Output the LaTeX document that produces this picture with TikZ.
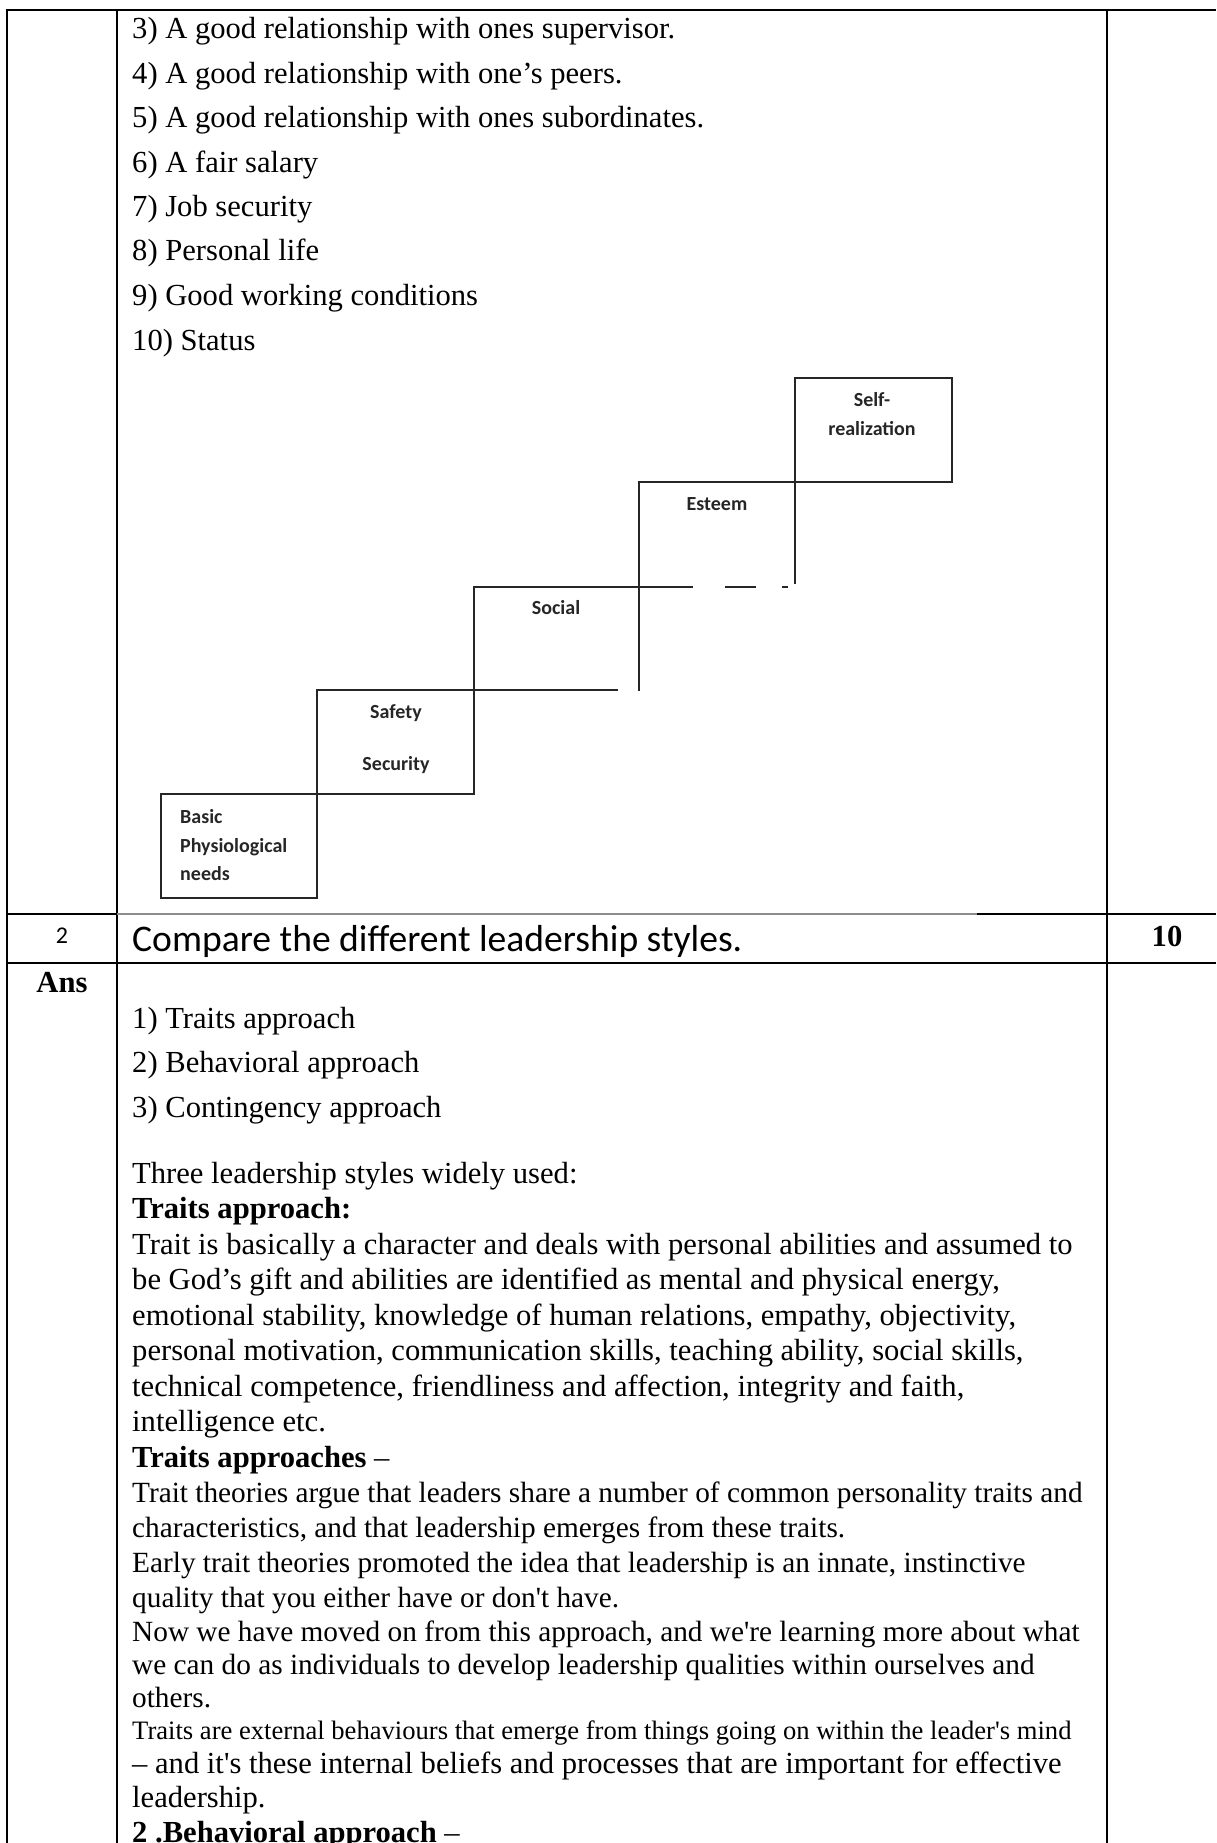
\documentclass[tikz,border=0pt]{standalone}
\usepackage{fontspec}
\setmainfont{Liberation Serif}
\newfontfamily\calfont{Carlito}
\begin{document}
\begin{tikzpicture}[x=1pt,y=-1pt,
  tline/.style={line width=2pt,black},
  dline/.style={line width=2pt,black!85,line cap=rect},
  body/.style={anchor=base west,inner sep=0pt,font=\fontsize{30.6}{36}\selectfont},
  bodyb/.style={anchor=base west,inner sep=0pt,font=\fontsize{29.3}{35}\selectfont},
  small/.style={anchor=base west,inner sep=0pt,font=\fontsize{26.6}{32}\selectfont},
  dlab/.style={inner sep=0pt,font=\calfont\bfseries\fontsize{20}{24}\selectfont,text=black!85},
]
\useasboundingbox (0,0) rectangle (1216,1843);
% table lines
\draw[tline] (7,10) -- (1216,10);
\draw[tline] (7,9) -- (7,1843);
\draw[tline] (117,10) -- (117,1843);
\draw[tline] (1107,10) -- (1107,1843);
\draw[tline] (6,914) -- (117,914);
\draw[line width=1.2pt,black!45] (117,914) -- (977,914);
\draw[tline] (977,914) -- (1216,914);
\draw[tline] (6,963) -- (1216,963);

% list in first row
\node[body] (l3) at (132,39) {3) A good relationship with ones supervisor.};
\node[body] (l4) at (132,84) {4) A good relationship with one’s peers.};
\node[body] (l5) at (132,128) {5) A good relationship with ones subordinates.};
\node[body] (l6) at (132,173) {6) A fair salary};
\node[body] (l7) at (132,217) {7) Job security};
\node[body] (l8) at (132,261) {8) Personal life};
\node[body] (l9) at (132,306) {9) Good working conditions};
\node[body] (l10) at (132,350) {10) Status};

% staircase diagram
\draw[dline] (795,378) -- (952,378);
\draw[dline] (639,482) -- (952,482);
\draw[dline] (474,587) -- (692,587);
\draw[dline] (726,587) -- (755,587);
\draw[dline] (783,587) -- (787,587);
\draw[dline] (317,690) -- (617,690);
\draw[dline] (161,794) -- (474,794);
\draw[dline] (161,898) -- (317,898);
\draw[dline] (161,794) -- (161,898);
\draw[dline] (317,690) -- (317,898);
\draw[dline] (474,587) -- (474,794);
\draw[dline] (639,482) -- (639,690);
\draw[dline] (795,378) -- (795,583);
\draw[dline] (952,378) -- (952,482);

\node[dlab,anchor=base] (selfa) at (872,406) {Self-};
\node[dlab,anchor=base] (selfb) at (872,435) {realization};
\node[dlab,anchor=base] (est) at (717,510) {Esteem};
\node[dlab,anchor=base] (soc) at (556,614) {Social};
\node[dlab,anchor=base] (saf) at (396,718) {Safety};
\node[dlab,anchor=base] (sec) at (396,770) {Security};
\node[dlab,anchor=base west] (bas1) at (180,823) {Basic};
\node[dlab,anchor=base west] (bas2) at (180,852) {Physiological};
\node[dlab,anchor=base west] (bas3) at (180,880) {needs};

% question row
\node[anchor=base,inner sep=0pt,font=\calfont\fontsize{24}{28}\selectfont] (qn) at (62,943) {2};
\node[anchor=base west,inner sep=0pt,font=\calfont\fontsize{37.6}{44}\selectfont] (qt) at (132,951) {Compare the different leadership styles.};
\node[anchor=base,inner sep=0pt,font=\bfseries\fontsize{30.6}{36}\selectfont] (mk) at (1167,946) {10};

% answer
\node[anchor=base,inner sep=0pt,font=\bfseries\fontsize{30.6}{36}\selectfont] (ans) at (62,992) {Ans};
\node[body] (a1) at (132,1028) {1) Traits approach};
\node[body] (a2) at (132,1072) {2) Behavioral approach};
\node[body] (a3) at (132,1117) {3) Contingency approach};
\node[body] (t0) at (132,1183) {Three leadership styles widely used:};
\node[body,font=\bfseries\fontsize{30.6}{36}\selectfont] (t1) at (132,1218) {Traits approach:};
\node[body] (t2) at (132,1254) {Trait is basically a character and deals with personal abilities and assumed to};
\node[body] (t3) at (132,1289) {be God’s gift and abilities are identified as mental and physical energy,};
\node[body] (t4) at (132,1325) {emotional stability, knowledge of human relations, empathy, objectivity,};
\node[body] (t5) at (132,1360) {personal motivation, communication skills, teaching ability, social skills,};
\node[body] (t6) at (132,1396) {technical competence, friendliness and affection, integrity and faith,};
\node[body] (t7) at (132,1431) {intelligence etc.};
\node[body] (t8) at (132,1467) {\textbf{Traits approaches} –};
\node[bodyb] (t9) at (132,1502) {Trait theories argue that leaders share a number of common personality traits and};
\node[bodyb] (t10) at (132,1537) {characteristics, and that leadership emerges from these traits.};
\node[bodyb] (t11) at (132,1572) {Early trait theories promoted the idea that leadership is an innate, instinctive};
\node[bodyb] (t12) at (132,1607) {quality that you either have or don\textquotesingle t have.};
\node[bodyb] (t13) at (132,1641) {Now we have moved on from this approach, and we\textquotesingle re learning more about what};
\node[bodyb] (t14) at (132,1674) {we can do as individuals to develop leadership qualities within ourselves and};
\node[bodyb] (t15) at (132,1707) {others.};
\node[small] (t16) at (132,1739) {Traits are external behaviours that emerge from things going on within the leader\textquotesingle s mind};
\node[body] (t17) at (132,1773) {– and it\textquotesingle s these internal beliefs and processes that are important for effective};
\node[body] (t18) at (132,1807) {leadership.};
\node[body] (t19) at (132,1842) {\textbf{2 .Behavioral approach} –};
\end{tikzpicture}
\end{document}
